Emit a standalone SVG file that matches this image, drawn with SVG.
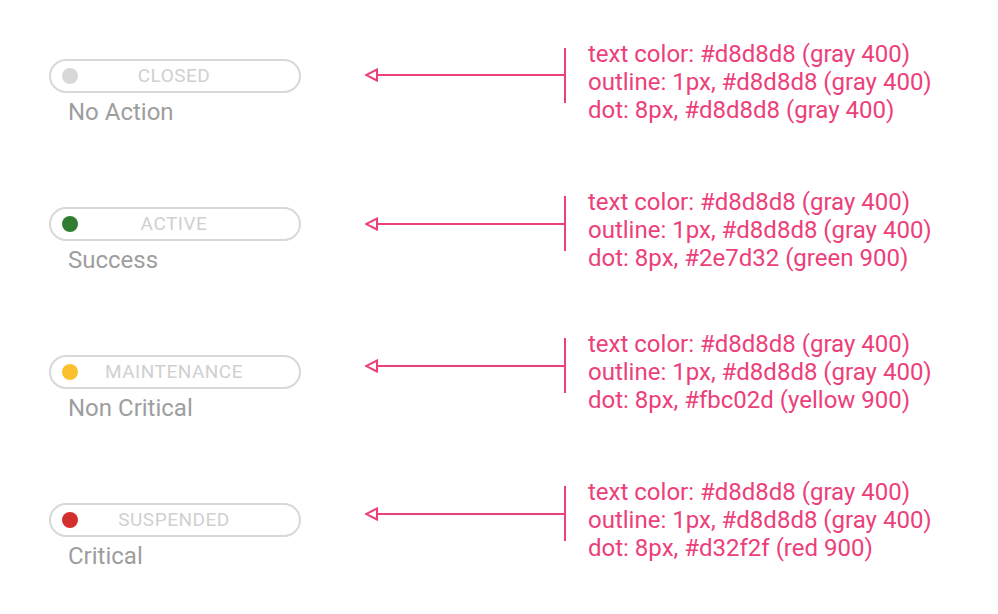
<svg xmlns="http://www.w3.org/2000/svg" width="998" height="614" viewBox="0 0 998 614">
<style>
.pill{fill:#fff;stroke:#d8d8d8;stroke-width:2}
.pt{font-family:Roboto,"Liberation Sans",sans-serif;font-size:19px;fill:#d0d0d0;text-anchor:middle;letter-spacing:0.5px}
.lbl{font-family:Roboto,"Liberation Sans",sans-serif;font-size:24px;fill:#9e9e9e}
.note{font-family:Roboto,"Liberation Sans",sans-serif;font-size:24px;fill:#ec407a}
.ln{stroke:#ec407a;stroke-width:2;fill:none}
</style>
<defs>
<marker id="ah" viewBox="0 0 14 14" refX="12.5" refY="7" markerWidth="14" markerHeight="14" markerUnits="userSpaceOnUse" orient="auto">
<path d="M1.5,1.5 L12.5,7 L1.5,12.5 Z" fill="#fff" stroke="#ec407a" stroke-width="2" stroke-linejoin="miter"/>
</marker>
</defs>
<rect width="998" height="614" fill="#fff"/>
<g id="node-closed">
<rect class="pill" x="50" y="60" width="250" height="32" rx="16"/>
<circle cx="70" cy="76" r="8" fill="#d8d8d8"/>
<text class="pt" x="174" y="81.5">CLOSED</text>
<text class="lbl" x="68" y="119.5">No Action</text>
</g>
<g id="node-active">
<rect class="pill" x="50" y="208" width="250" height="32" rx="16"/>
<circle cx="70" cy="224" r="8" fill="#2e7d32"/>
<text class="pt" x="174" y="229.5">ACTIVE</text>
<text class="lbl" x="68" y="267.5">Success</text>
</g>
<g id="node-maintenance">
<rect class="pill" x="50" y="356" width="250" height="32" rx="16"/>
<circle cx="70" cy="372" r="8" fill="#fbc02d"/>
<text class="pt" x="174" y="377.5">MAINTENANCE</text>
<text class="lbl" x="68" y="415.5">Non Critical</text>
</g>
<g id="node-suspended">
<rect class="pill" x="50" y="504" width="250" height="32" rx="16"/>
<circle cx="70" cy="520" r="8" fill="#d32f2f"/>
<text class="pt" x="174" y="525.5">SUSPENDED</text>
<text class="lbl" x="68" y="563.5">Critical</text>
</g>
<g id="connectors">
<line class="ln" x1="565" y1="48" x2="565" y2="103"/>
<line class="ln" x1="565" y1="75" x2="366" y2="75" marker-end="url(#ah)"/>
<line class="ln" x1="565" y1="196" x2="565" y2="251"/>
<line class="ln" x1="565" y1="224" x2="366" y2="224" marker-end="url(#ah)"/>
<line class="ln" x1="565" y1="338" x2="565" y2="393"/>
<line class="ln" x1="565" y1="366" x2="366" y2="366" marker-end="url(#ah)"/>
<line class="ln" x1="565" y1="486" x2="565" y2="541"/>
<line class="ln" x1="565" y1="514" x2="366" y2="514" marker-end="url(#ah)"/>
</g>
<g id="notes">
<text class="note" x="588" y="62">text color: #d8d8d8 (gray 400)</text>
<text class="note" x="588" y="90">outline: 1px, #d8d8d8 (gray 400)</text>
<text class="note" x="588" y="118">dot: 8px, #d8d8d8 (gray 400)</text>
<text class="note" x="588" y="210">text color: #d8d8d8 (gray 400)</text>
<text class="note" x="588" y="238">outline: 1px, #d8d8d8 (gray 400)</text>
<text class="note" x="588" y="266">dot: 8px, #2e7d32 (green 900)</text>
<text class="note" x="588" y="352">text color: #d8d8d8 (gray 400)</text>
<text class="note" x="588" y="380">outline: 1px, #d8d8d8 (gray 400)</text>
<text class="note" x="588" y="408">dot: 8px, #fbc02d (yellow 900)</text>
<text class="note" x="588" y="500">text color: #d8d8d8 (gray 400)</text>
<text class="note" x="588" y="528">outline: 1px, #d8d8d8 (gray 400)</text>
<text class="note" x="588" y="556">dot: 8px, #d32f2f (red 900)</text>
</g>
</svg>
